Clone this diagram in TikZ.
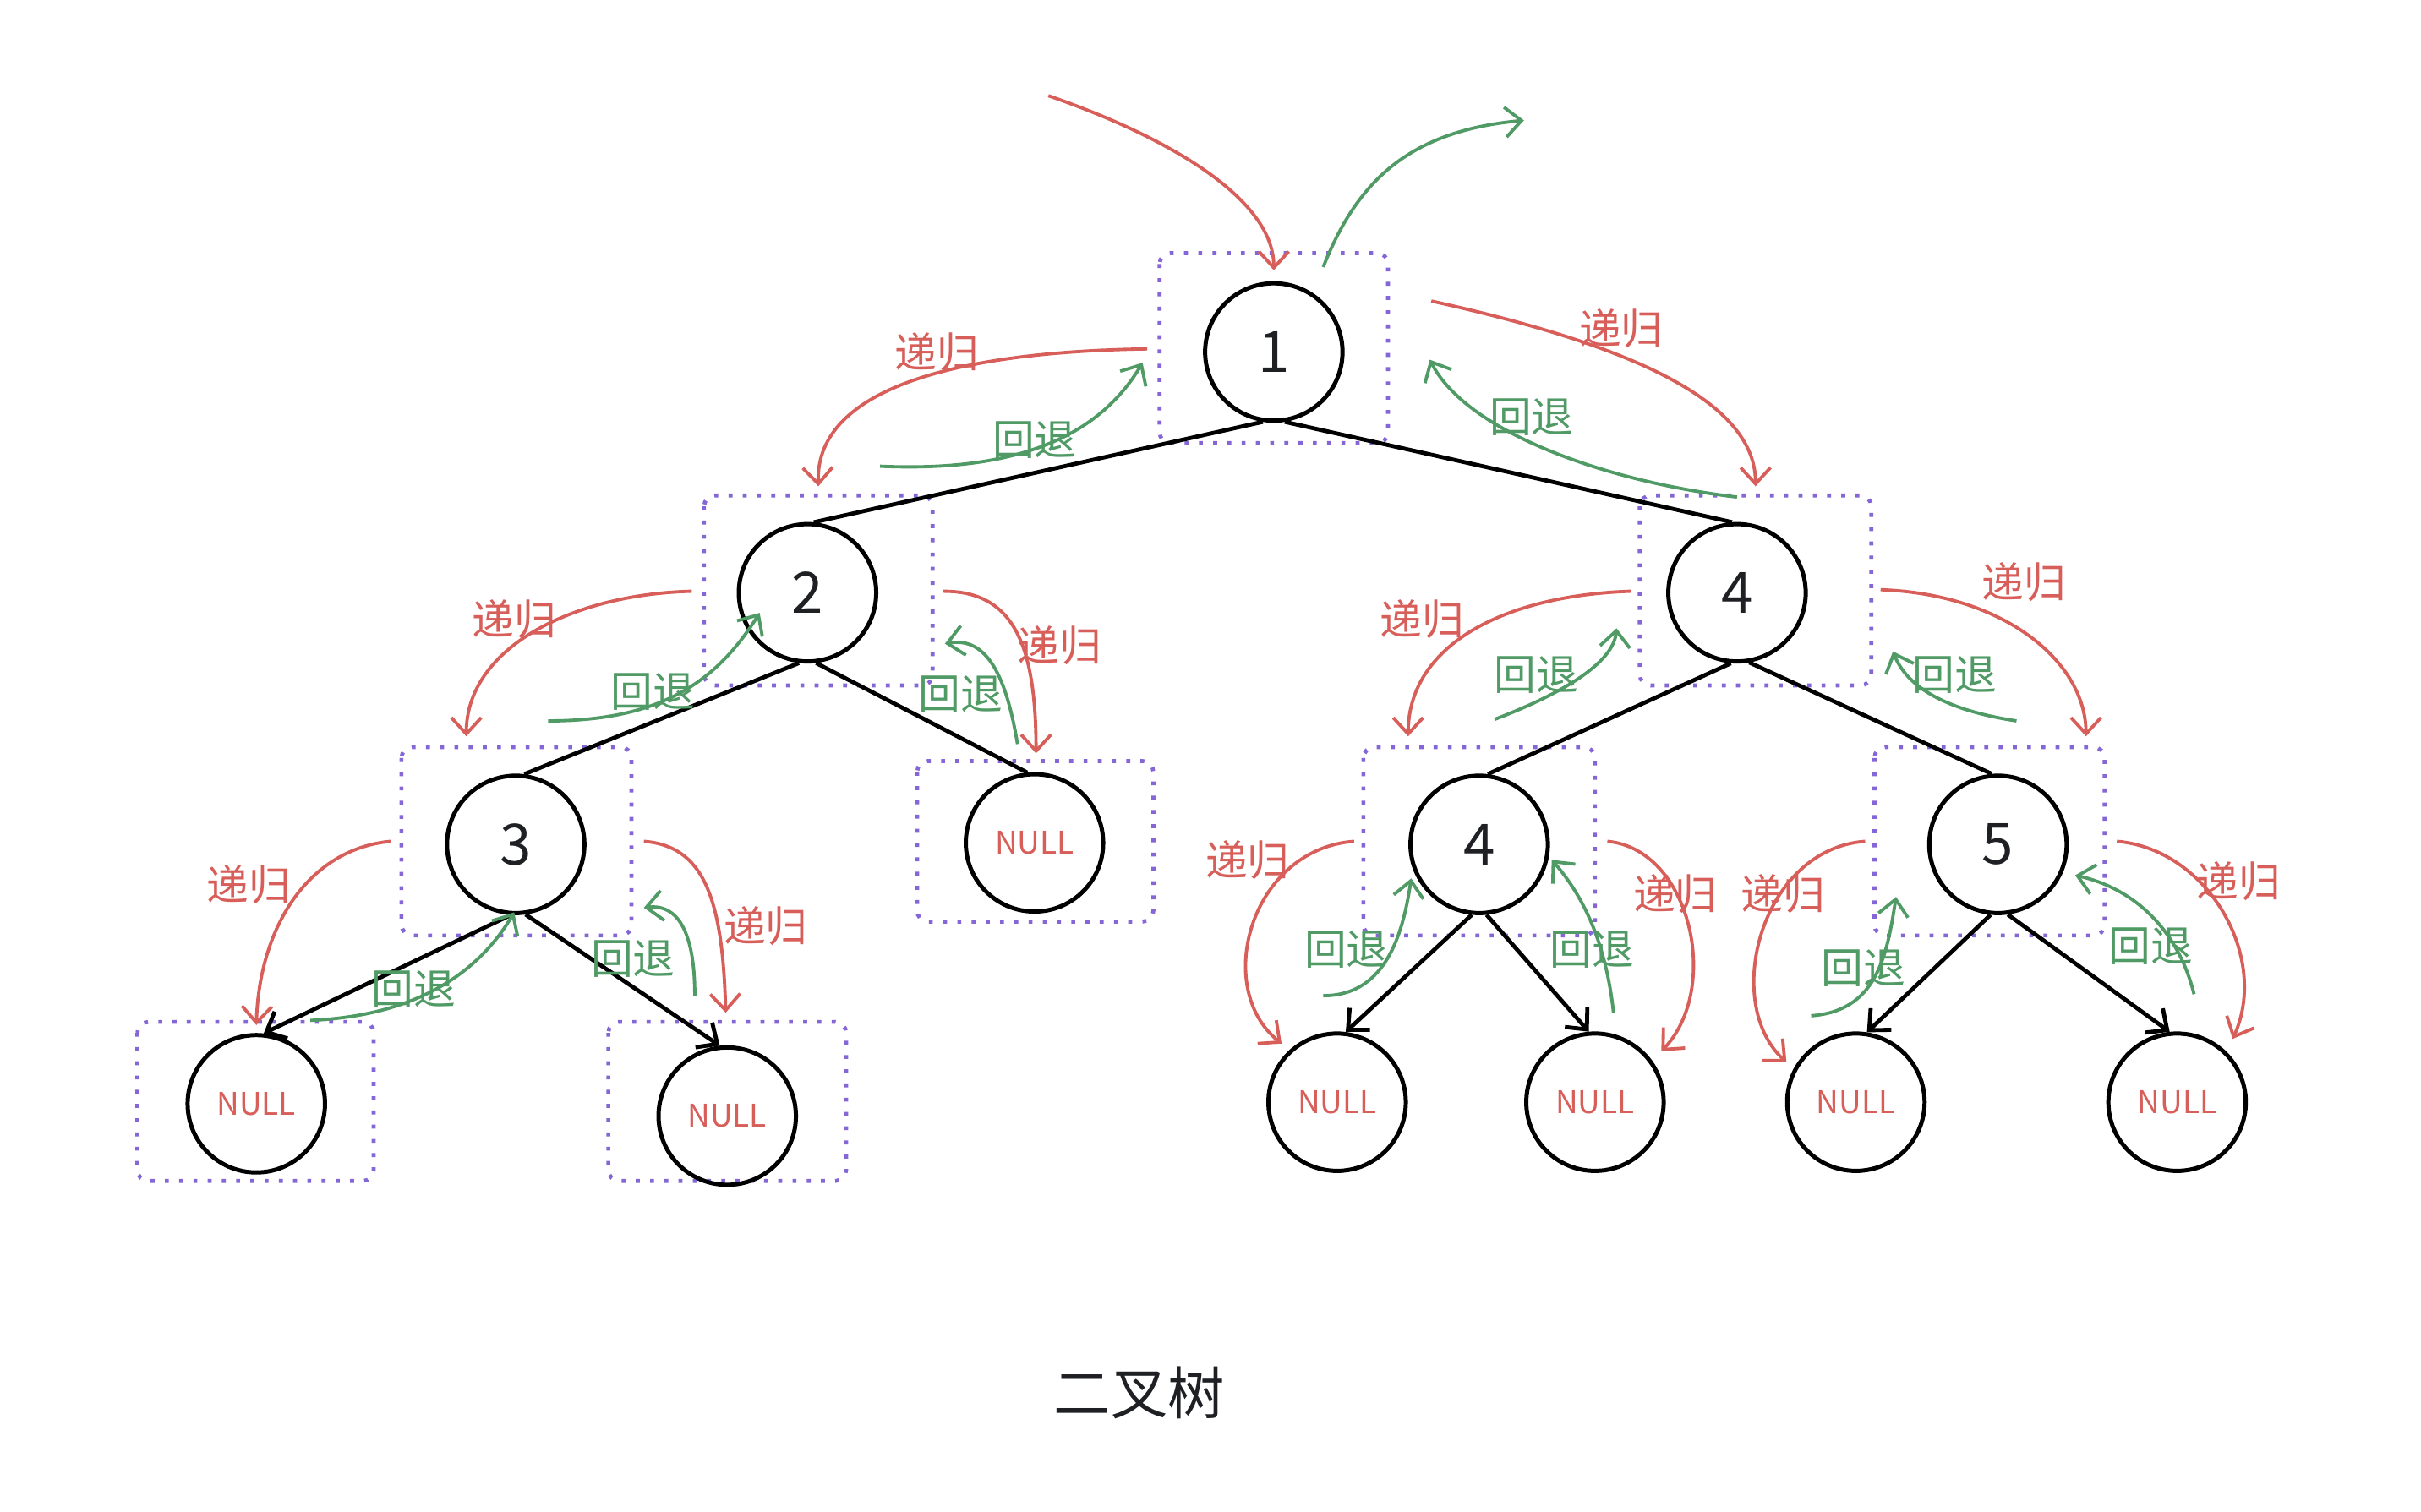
\documentclass[tikz,border=0pt]{standalone}
\usepackage{fontspec}
\setmainfont{Noto Sans CJK SC}
\usetikzlibrary{arrows.meta}
\definecolor{recred}{RGB}{216,94,90}
\definecolor{backgreen}{RGB}{80,154,101}
\definecolor{boxpurple}{RGB}{132,102,214}
\definecolor{inkdark}{RGB}{30,32,36}
\tikzset{
  tnode/.style={circle,draw=black,line width=1.55pt,minimum size=1.78cm,inner sep=0pt,text=inkdark,font=\fontsize{21}{21}\selectfont},
  nullnode/.style={circle,draw=black,line width=1.55pt,minimum size=1.78cm,inner sep=0pt,text=recred,font=\fontsize{11.5}{11.5}\selectfont},
  dbox/.style={draw=boxpurple,line width=1.45pt,dash pattern=on 1.45pt off 3.8pt,rounded corners=4pt},
  edge/.style={draw=black,line width=1.5pt},
  aedge/.style={draw=black,line width=1.5pt,-{Straight Barb[length=6pt,width=11pt,line width=1.5pt]}},
  rec/.style={draw=recred,line width=1.2pt,-{Straight Barb[length=6pt,width=11pt,line width=1.2pt]}},
  back/.style={draw=backgreen,line width=1.2pt,-{Straight Barb[length=6pt,width=11pt,line width=1.2pt]}},
  reclab/.style={text=recred,font=\fontsize{15.5}{15.5}\selectfont,inner sep=0pt},
  backlab/.style={text=backgreen,font=\fontsize{15.5}{15.5}\selectfont,inner sep=0pt},
}
\begin{document}
\begin{tikzpicture}[x=0.02cm,y=-0.02cm]
\useasboundingbox (0,0) rectangle (1568,979);
\fill[white] (0,0) rectangle (1568,979);

% dotted boxes
\draw[dbox] (751,164) rectangle (899,287);
\draw[dbox] (456,321) rectangle (604,444);
\draw[dbox] (1062,321) rectangle (1212,444);
\draw[dbox] (260,484) rectangle (409,606);
\draw[dbox] (594,493) rectangle (747,597);
\draw[dbox] (883,484) rectangle (1033,606);
\draw[dbox] (1214,484) rectangle (1363,606);
\draw[dbox] (89,662) rectangle (242,765);
\draw[dbox] (394,662) rectangle (548,765);

% nodes
\node[tnode] (n1) at (825,228) {1};
\node[tnode] (n2) at (523,384) {2};
\node[tnode] (n4a) at (1125,384) {4};
\node[tnode] (n3) at (334,547) {3};
\node[nullnode] (nl2) at (670,546) {NULL};
\node[tnode] (n4b) at (958,547) {4};
\node[tnode] (n5) at (1294,547) {5};
\node[nullnode] (nl3a) at (166,715) {NULL};
\node[nullnode] (nl3b) at (471,723) {NULL};
\node[nullnode] (nl4a) at (866,714) {NULL};
\node[nullnode] (nl4b) at (1033,714) {NULL};
\node[nullnode] (nl5a) at (1202,714) {NULL};
\node[nullnode] (nl5b) at (1410,714) {NULL};

% tree edges
\draw[edge] (n1.261) -- (n2.85);
\draw[edge] (n1.279) -- (n4a.94);
\draw[edge] (n2.263) -- (n3.83);
\draw[edge] (n2.277) -- (nl2.96);
\draw[edge] (n4a.265) -- (n4b.83);
\draw[edge] (n4a.280) -- (n5.95);
\draw[aedge] (n3.266) -- (nl3a.84);
\draw[aedge] (n3.278) -- (nl3b.96);
\draw[aedge] (n4b.264) -- (nl4a.83);
\draw[aedge] (n4b.276) -- (nl4b.95);
\draw[aedge] (n5.264) -- (nl5a.81);
\draw[aedge] (n5.278) -- (nl5b.96);

% free ends of the annotation curves
\coordinate (t0s) at (679,62);   \coordinate (t0e) at (825,175);
\coordinate (g0s) at (857,173);  \coordinate (g0e) at (987,78);
\coordinate (r1ls) at (743,226); \coordinate (r1le) at (530,315);
\coordinate (g1ls) at (570,302); \coordinate (g1le) at (740,235);
\coordinate (r1rs) at (927,195); \coordinate (r1re) at (1137,315);
\coordinate (g1rs) at (1125,322);\coordinate (g1re) at (926,233);
\coordinate (r2ls) at (448,383); \coordinate (r2le) at (302,477);
\coordinate (g2ls) at (355,467); \coordinate (g2le) at (492,397);
\coordinate (r2rs) at (611,383); \coordinate (r2re) at (671,488);
\coordinate (g2rs) at (659,482); \coordinate (g2re) at (612,417);
\coordinate (r3ls) at (253,545); \coordinate (r3le) at (166,664);
\coordinate (g3ls) at (201,661); \coordinate (g3le) at (333,591);
\coordinate (r3rs) at (417,545); \coordinate (r3re) at (470,656);
\coordinate (g3rs) at (450,645); \coordinate (g3re) at (417,588);
\coordinate (r4ls) at (1056,383);\coordinate (r4le) at (912,477);
\coordinate (g4ls) at (968,466); \coordinate (g4le) at (1047,407);
\coordinate (r4rs) at (1218,382);\coordinate (r4re) at (1351,477);
\coordinate (g4rs) at (1306,467);\coordinate (g4re) at (1226,422);
\coordinate (r6ls) at (877,545); \coordinate (r6le) at (830,676);
\coordinate (g6ls) at (857,645); \coordinate (g6le) at (914,569);
\coordinate (r6rs) at (1041,545);\coordinate (r6re) at (1076,681);
\coordinate (g6rs) at (1045,656);\coordinate (g6re) at (1005,557);
\coordinate (r5ls) at (1208,545);\coordinate (r5le) at (1157,688);
\coordinate (g5ls) at (1173,658);\coordinate (g5le) at (1228,581);
\coordinate (r5rs) at (1371,545);\coordinate (r5re) at (1446,673);
\coordinate (g5rs) at (1421,644);\coordinate (g5re) at (1344,567);

% annotation curves
\draw[rec]  (t0s) .. controls (760,90) and (825,130) .. (t0e);
\draw[back] (g0s) .. controls (878,120) and (910,85) .. (g0e);

\draw[rec]  (r1ls) .. controls (610,228) and (528,255) .. (r1le);
\draw[back] (g1ls) .. controls (660,306) and (712,282) .. (g1le);
\draw[rec]  (r1rs) .. controls (1040,220) and (1137,255) .. (r1re);
\draw[back] (g1rs) .. controls (1040,312) and (950,280) .. (g1re);

\draw[rec]  (r2ls) .. controls (370,385) and (302,420) .. (r2le);
\draw[back] (g2ls) .. controls (430,467) and (465,440) .. (g2le);
\draw[rec]  (r2rs) .. controls (655,383) and (671,415) .. (r2re);
\draw[back] (g2rs) .. controls (652,440) and (640,412) .. (g2re);

\draw[rec]  (r3ls) .. controls (200,550) and (168,600) .. (r3le);
\draw[back] (g3ls) .. controls (270,658) and (310,630) .. (g3le);
\draw[rec]  (r3rs) .. controls (455,548) and (468,580) .. (r3re);
\draw[back] (g3rs) .. controls (450,610) and (442,585) .. (g3re);

\draw[rec]  (r4ls) .. controls (970,386) and (912,420) .. (r4le);
\draw[back] (g4ls) .. controls (1010,450) and (1045,430) .. (g4le);
\draw[rec]  (r4rs) .. controls (1300,385) and (1351,430) .. (r4re);
\draw[back] (g4rs) .. controls (1260,460) and (1235,445) .. (g4re);

\draw[rec]  (r6ls) .. controls (810,550) and (785,640) .. (r6le);
\draw[back] (g6ls) .. controls (895,645) and (908,610) .. (g6le);
\draw[rec]  (r6rs) .. controls (1095,550) and (1115,640) .. (r6re);
\draw[back] (g6rs) .. controls (1040,610) and (1025,580) .. (g6re);

\draw[rec]  (r5ls) .. controls (1140,550) and (1115,650) .. (r5le);
\draw[back] (g5ls) .. controls (1215,655) and (1222,620) .. (g5le);
\draw[rec]  (r5rs) .. controls (1430,550) and (1470,620) .. (r5re);
\draw[back] (g5rs) .. controls (1410,600) and (1380,575) .. (g5re);

% labels
\node[reclab]  (l1) at (607,228) {递归};
\node[backlab] (l2) at (670,285) {回退};
\node[reclab]  (l3) at (1050,213) {递归};
\node[backlab] (l4) at (992,270) {回退};
\node[reclab]  (l5) at (333,401) {递归};
\node[backlab] (l6) at (423,448) {回退};
\node[reclab]  (l7) at (686,418) {递归};
\node[backlab] (l8) at (622,450) {回退};
\node[reclab]  (l9) at (161,573) {递归};
\node[backlab] (l10) at (268,641) {回退};
\node[reclab]  (l11) at (496,600) {递归};
\node[backlab] (l12) at (410,621) {回退};
\node[reclab]  (l13) at (921,401) {递归};
\node[backlab] (l14) at (995,437) {回退};
\node[reclab]  (l15) at (1311,377) {递归};
\node[backlab] (l16) at (1266,437) {回退};
\node[reclab]  (l17) at (808,557) {递归};
\node[backlab] (l18) at (872,615) {回退};
\node[reclab]  (l19) at (1085,579) {递归};
\node[backlab] (l20) at (1031,615) {回退};
\node[reclab]  (l21) at (1155,579) {递归};
\node[backlab] (l22) at (1207,627) {回退};
\node[reclab]  (l23) at (1450,571) {递归};
\node[backlab] (l24) at (1393,613) {回退};

\node[text=inkdark,font=\fontsize{21}{21}\selectfont,inner sep=0pt] (title) at (738,902) {二叉树};
\end{tikzpicture}
\end{document}
